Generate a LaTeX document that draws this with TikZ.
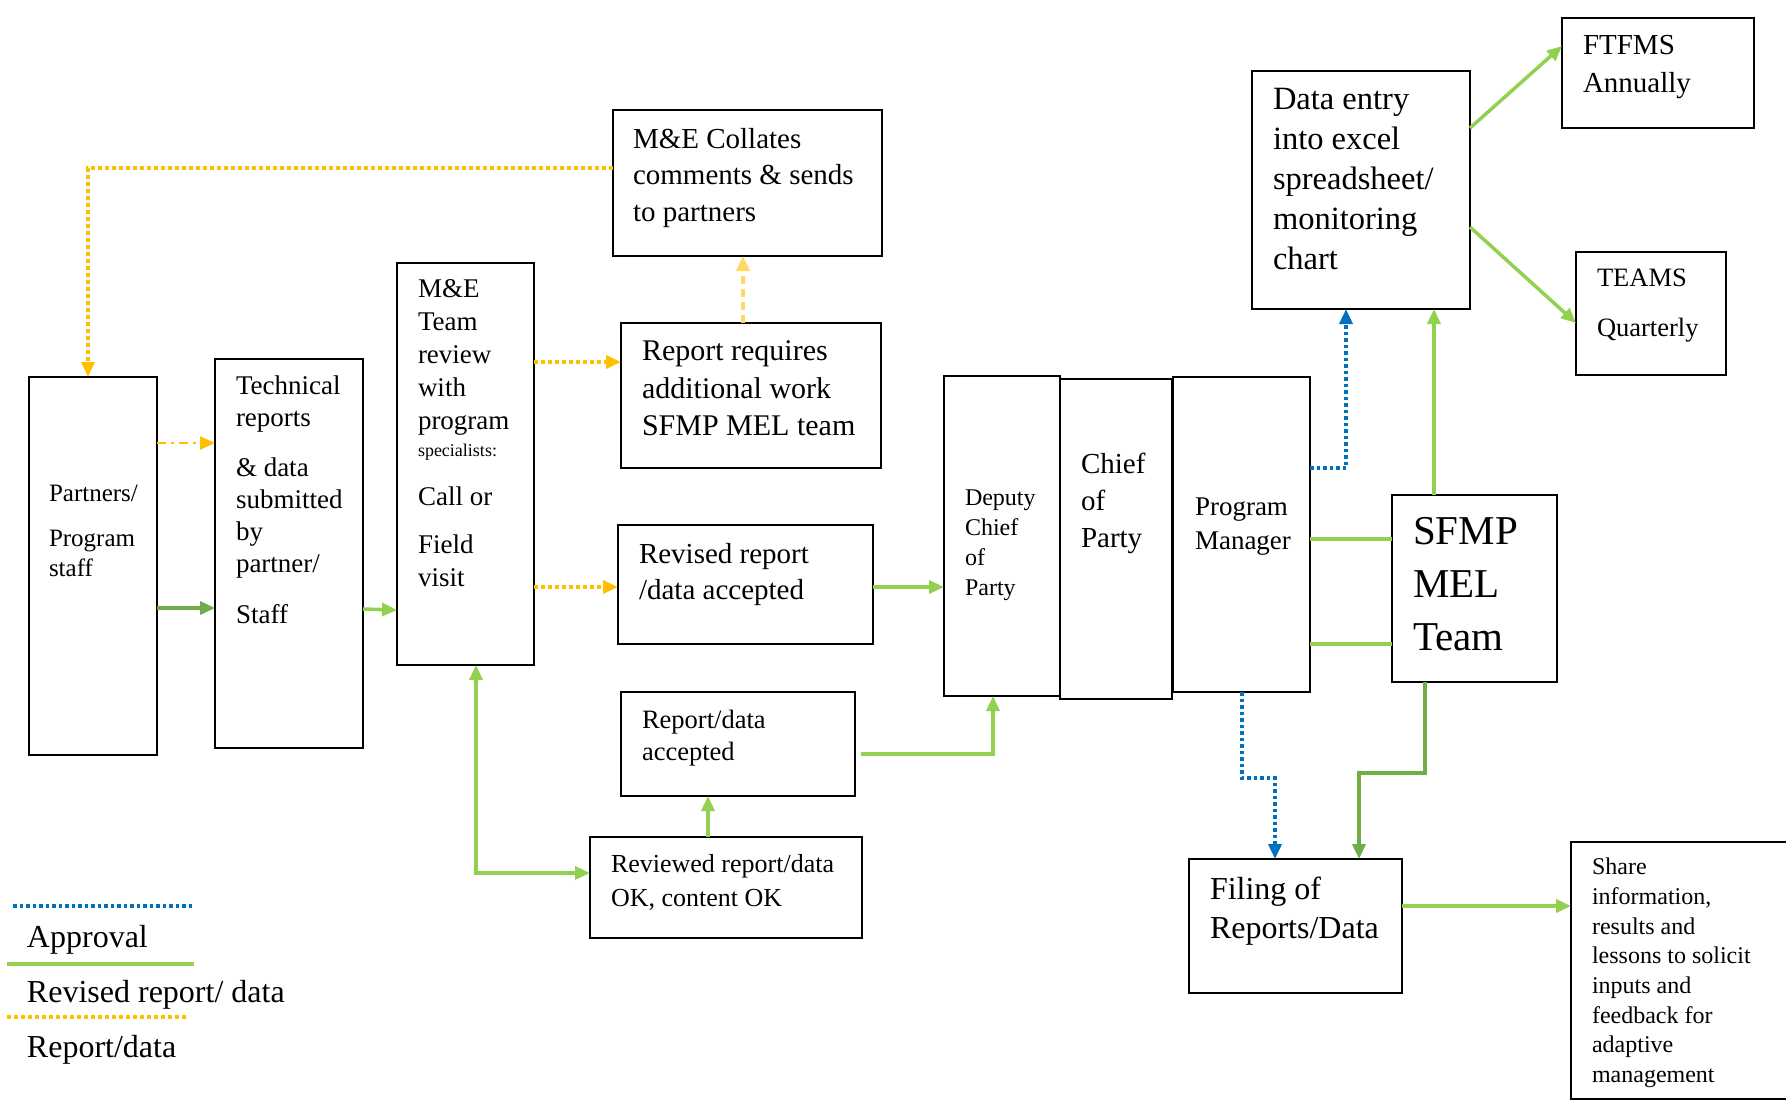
\documentclass[tikz,border=0pt]{standalone}
\usepackage{fontspec}
\setmainfont{Liberation Serif}
\usetikzlibrary{arrows.meta}

\definecolor{ylw}{HTML}{FFC000}
\definecolor{ltylw}{HTML}{FFD966}
\definecolor{grn}{HTML}{92D050}
\definecolor{dkgrn}{HTML}{70AD47}
\definecolor{blu}{HTML}{0070C0}
\newcommand{\fsz}[2]{\fontsize{#1pt}{#2pt}\selectfont}

\begin{document}
\begin{tikzpicture}[x=1pt, y=-1pt,
    box/.style={draw, line width=2.2pt, inner sep=0pt, outer sep=0pt, anchor=north west},
    txt/.style={inner sep=0pt, outer sep=0pt, anchor=north west, align=left},
    tip/.style={-{Triangle[length=15pt, width=13pt]}},
    tips/.style={{Triangle[length=15pt, width=13pt]}-{Triangle[length=15pt, width=13pt]}},
    approve/.style={blu, line width=3.5pt, dash pattern=on 3.5pt off 3pt},
    revise/.style={grn, line width=3.5pt},
    report/.style={ylw, line width=3.5pt, dash pattern=on 4pt off 3pt}]
        \useasboundingbox (0,0) rectangle (1786,1104);

        \node (partners) at (29,377)[box, minimum width=128pt, minimum height=378pt]{};
        \node (tech) at (215,359)[box, minimum width=148pt, minimum height=389pt]{};
        \node (mereview) at (397,263)[box, minimum width=137pt, minimum height=402pt]{};
        \node (collates) at (613,110)[box, minimum width=269pt, minimum height=146pt]{};
        \node (requires) at (621,323)[box, minimum width=260pt, minimum height=145pt]{};
        \node (revised) at (618,525)[box, minimum width=255pt, minimum height=119pt]{};
        \node (accepted) at (621,692)[box, minimum width=234pt, minimum height=104pt]{};
        \node (reviewed) at (590,837)[box, minimum width=272pt, minimum height=101pt]{};
        \node (deputy) at (944,376)[box, minimum width=116pt, minimum height=320pt]{};
        \node (chief) at (1060,379)[box, minimum width=112pt, minimum height=320pt]{};
        \node (pm) at (1173,377)[box, minimum width=137pt, minimum height=315pt]{};
        \node (mel) at (1392,495)[box, minimum width=165pt, minimum height=187pt]{};
        \node (dataentry) at (1252,71)[box, minimum width=218pt, minimum height=238pt]{};
        \node (ftfms) at (1562,18)[box, minimum width=192pt, minimum height=110pt]{};
        \node (teams) at (1576,252)[box, minimum width=150pt, minimum height=123pt]{};
        \node (filing) at (1189,859)[box, minimum width=213pt, minimum height=134pt]{};
        \node (share) at (1571,842)[box, minimum width=240pt, minimum height=257pt]{};

        \node (partnerstxt) at (49,485)[txt, font=\fsz{25}{30}]{Partners/\\[15pt]Program\\staff};
        \node (techtxt) at (236,376)[txt, font=\fsz{27}{32}]{Technical\\reports\\[18pt]\& data\\submitted\\by\\partner/\\[19pt]Staff};
        \node (mereviewtxt) at (418,280)[txt, font=\fsz{27}{33}]{M\&E\\Team\\review\\with\\program\\[-6pt]{\fsz{18}{22}specialists:}\\[16pt]Call or\\[15pt]Field\\visit};
        \node (collatestxt) at (633,128)[txt, font=\fsz{29}{36.5}]{M\&E Collates\\comments \& sends\\to partners};
        \node (requirestxt) at (642,341)[txt, font=\fsz{30}{37.5}]{Report requires\\additional work\\SFMP MEL team};
        \node (revisedtxt) at (639,543)[txt, font=\fsz{29}{36}]{Revised report\\/data accepted};
        \node (acceptedtxt) at (642,710)[txt, font=\fsz{26.5}{32}]{Report/data\\accepted};
        \node (reviewedtxt) at (611,854)[txt, font=\fsz{26}{34}]{Reviewed report/data\\OK, content OK};
        \node (deputytxt) at (965,490)[txt, font=\fsz{24}{30}]{Deputy\\Chief\\of\\Party};
        \node (chieftxt) at (1081,453)[txt, font=\fsz{29}{37}]{Chief\\of\\Party};
        \node (pmtxt) at (1195,498)[txt, font=\fsz{27}{34}]{Program\\Manager};
        \node (meltxt) at (1413,517)[txt, font=\fsz{41}{53}]{SFMP\\MEL\\Team};
        \node (dataentrytxt) at (1273,88)[txt, font=\fsz{32.5}{40}]{Data entry\\into excel\\spreadsheet/\\monitoring\\chart};
        \node (ftfmstxt) at (1583,35)[txt, font=\fsz{29}{38}]{FTFMS\\Annually};
        \node (teamstxt) at (1597,269)[txt, font=\fsz{26.5}{50}]{TEAMS\\Quarterly};
        \node (filingtxt) at (1210,877)[txt, font=\fsz{32}{39}]{Filing of\\Reports/Data};
        \node (sharetxt) at (1592,858)[txt, font=\fsz{24}{29.7}]{Share\\information,\\results and\\lessons to solicit\\inputs and\\feedback for\\adaptive\\management};

        \coordinate (ycorner) at (88,168);
        \draw[report, tip] (collates.west |- ycorner) -- (ycorner) -- (partners.north -| ycorner);
        \draw[ylw, line width=2.5pt, dash pattern=on 9pt off 5pt on 3pt off 5pt, tip] (partners.east |- 0,443) -- (tech.west |- 0,443);
        \draw[dkgrn, line width=3.5pt, tip] (partners.east |- 0,608) -- (tech.west |- 0,608);
        \draw[revise, tip] (tech.east |- 0,609) -- (mereview.west |- 0,610);
        \draw[report, tip] (mereview.east |- 0,362) -- (requires.west |- 0,362);
        \draw[report, tip] (mereview.east |- 0,587) -- (revised.west |- 0,587);
        \draw[ltylw, line width=4pt, dash pattern=on 8pt off 5pt, tip] (requires.north -| 743,0) -- (collates.south -| 743,0);
        \draw[revise, tip] (revised.east |- 0,587) -- (deputy.west |- 0,587);
        \draw[revise, tips] (mereview.south -| 476,0) |- (reviewed.west |- 0,873);
        \draw[revise, tip] (reviewed.north -| 708,0) -- (accepted.south -| 708,0);
        \draw[revise, tip] ([xshift=6pt]accepted.east |- 0,754) -| (deputy.south -| 993,0);

        \draw[revise] (pm.east |- 0,539) -- (mel.west |- 0,539);
        \draw[revise] (pm.east |- 0,644) -- (mel.west |- 0,644);
        \draw[revise, tip] (mel.north -| 1434,0) -- (dataentry.south -| 1434,0);
        \draw[approve, tip] (pm.east |- 0,468) -| (dataentry.south -| 1346,0);
        \draw[revise, tip] (dataentry.east |- 0,128) -- (ftfms.west |- 0,46);
        \draw[revise, tip] (dataentry.east |- 0,227) -- (teams.west |- 0,323);

        \coordinate (melbend) at (1425,773);
        \coordinate (pmbend) at (1242,778);
        \draw[dkgrn, line width=3.5pt, tip] (mel.south -| melbend) -- (melbend) -| (filing.north -| 1359,0);
        \draw[approve, tip] (pm.south -| pmbend) -- (pmbend) -| (filing.north -| 1275,0);
        \draw[revise, tip] (filing.east |- 0,906) -- (share.west |- 0,906);

        \draw[approve] (13,906) -- (193,906);
        \draw[revise] (7,964) -- (194,964);
        \draw[report] (7,1017) -- (187,1017);
        \node (approvaltxt) at (27,925)[txt, font=\fsz{32}{38}]{Approval};
        \node (revisetxt) at (27,980)[txt, font=\fsz{32}{38}]{Revised report/ data};
        \node (reporttxt) at (27,1035)[txt, font=\fsz{32}{38}]{Report/data};
\end{tikzpicture}
\end{document}
